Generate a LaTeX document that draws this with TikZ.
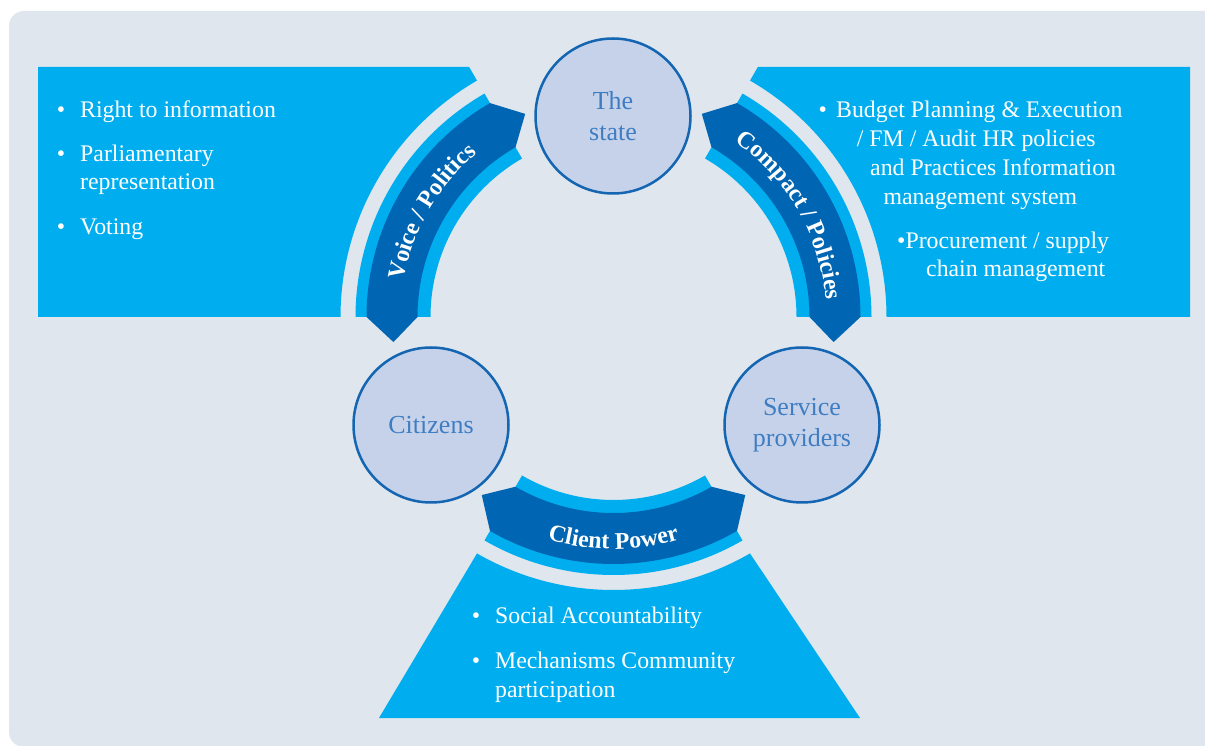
\documentclass[tikz,border=0pt]{standalone}
\usepackage{fontspec}
\setmainfont{Liberation Serif}
\usetikzlibrary{calc,decorations.text}

\definecolor{bgblue}{HTML}{DFE6ED}
\definecolor{lightblue}{HTML}{00AEEF}
\definecolor{darkblue}{HTML}{0066B3}
\definecolor{circfill}{HTML}{C6D2EA}
\definecolor{circline}{HTML}{1466B2}
\definecolor{circtext}{HTML}{3F7DC2}

\newcommand{\bandfont}{\bfseries\fontsize{24}{24}\selectfont}

\begin{document}
\begin{tikzpicture}[x=1pt,y=1pt,
  actor/.style={circle,draw=circline,line width=2.5pt,fill=circfill,minimum size=155pt,inner sep=0pt,
    text=circtext,align=center,font=\fontsize{26}{31.4}\selectfont},
  item/.style={text=white,anchor=base west,inner sep=0pt,font=\fontsize{23.8}{29}\selectfont},
  dot/.style={text=white,anchor=base,inner sep=0pt,font=\fontsize{23.8}{29}\selectfont},
  bandtext/.style={decorate,decoration={text along path,text align=center,text color=white,text={#1}}}]

\clip (0,0) rectangle (1205,745);
\fill[color=white] (0,0) rectangle (1205,745);
\fill[color=bgblue,rounded corners=15pt] (9,-2) rectangle (1240,734);
\coordinate (C) at (613.5,428);

\begin{scope}[color=lightblue]
\fill (38,678) -- ($(C)+(120:288.7)$) -- ($(C)+(120:273)$)
  arc[start angle=120,end angle=180,radius=273] -- (38,428) -- cycle;
\fill (1190,678) -- ($(C)+(60:288.7)$) -- ($(C)+(60:273)$)
  arc[start angle=60,end angle=0,radius=273] -- (1190,428) -- cycle;
\fill ($(C)+(-120:273)$) arc[start angle=-120,end angle=-60,radius=273]
  -- (860,27) -- (379,27) -- cycle;
\end{scope}

\foreach \a/\b in {120/180,0/60,-120/-60} {
  \fill[color=lightblue] ($(C)+(\a:258)$) arc[start angle=\a,end angle=\b,radius=258]
    -- ($(C)+(\b:183)$) arc[start angle=\b,end angle=\a,radius=183] -- cycle;
  \fill[color=darkblue] ($(C)+(\a:247)$) arc[start angle=\a,end angle=\b,radius=247]
    -- ($(C)+(\b+6.5:221.5)$) -- ($(C)+(\b:196)$)
    arc[start angle=\b,end angle=\a,radius=196] -- ($(C)+(\a-6.5:221.5)$) -- cycle;
}

\path[bandtext={|\bandfont|Voice / Politics}] ($(C)+(180:213)$) arc[start angle=180,end angle=120,radius=213];
\path[bandtext={|\bandfont|Compact / Policies}] ($(C)+(60:213)$) arc[start angle=60,end angle=0,radius=213];
\path[bandtext={|\bandfont|Client Power}] ($(C)+(-120:232)$) arc[start angle=-120,end angle=-60,radius=232];

\node[actor] (state) at (613,629) {The\\state};
\node[actor] (citizens) at (431,320) {Citizens};
\node[actor] (providers) at (802,320) {Service\\providers};

\node[dot] (b1) at (61,627.3) {•};
\node[item] (rti) at (80,627.3) {Right to information};
\node[dot] (b2) at (61,583.3) {•};
\node[item] (parl) at (80,583.3) {Parliamentary};
\node[item] (repr) at (80,555) {representation};
\node[dot] (b3) at (61,510) {•};
\node[item] (vote) at (80,510) {Voting};

\node[dot] (b4) at (822.7,627.3) {•};
\node[item] (budget) at (836,627.3) {Budget Planning \& Execution};
\node[item] (audit) at (856.7,598.3) {/ FM / Audit HR policies};
\node[item] (practice) at (870,569.3) {and Practices Information};
\node[item] (mis) at (883.3,540.7) {management system};
\node[item] (procure) at (897,496.7) {•Procurement / supply};
\node[item] (chain) at (926,468.3) {chain management};

\node[dot] (b5) at (476,122) {•};
\node[item] (social) at (495,122) {Social Accountability};
\node[dot] (b6) at (476,77) {•};
\node[item] (mech) at (495,77) {Mechanisms Community};
\node[item] (partic) at (495,48) {participation};

\end{tikzpicture}
\end{document}
